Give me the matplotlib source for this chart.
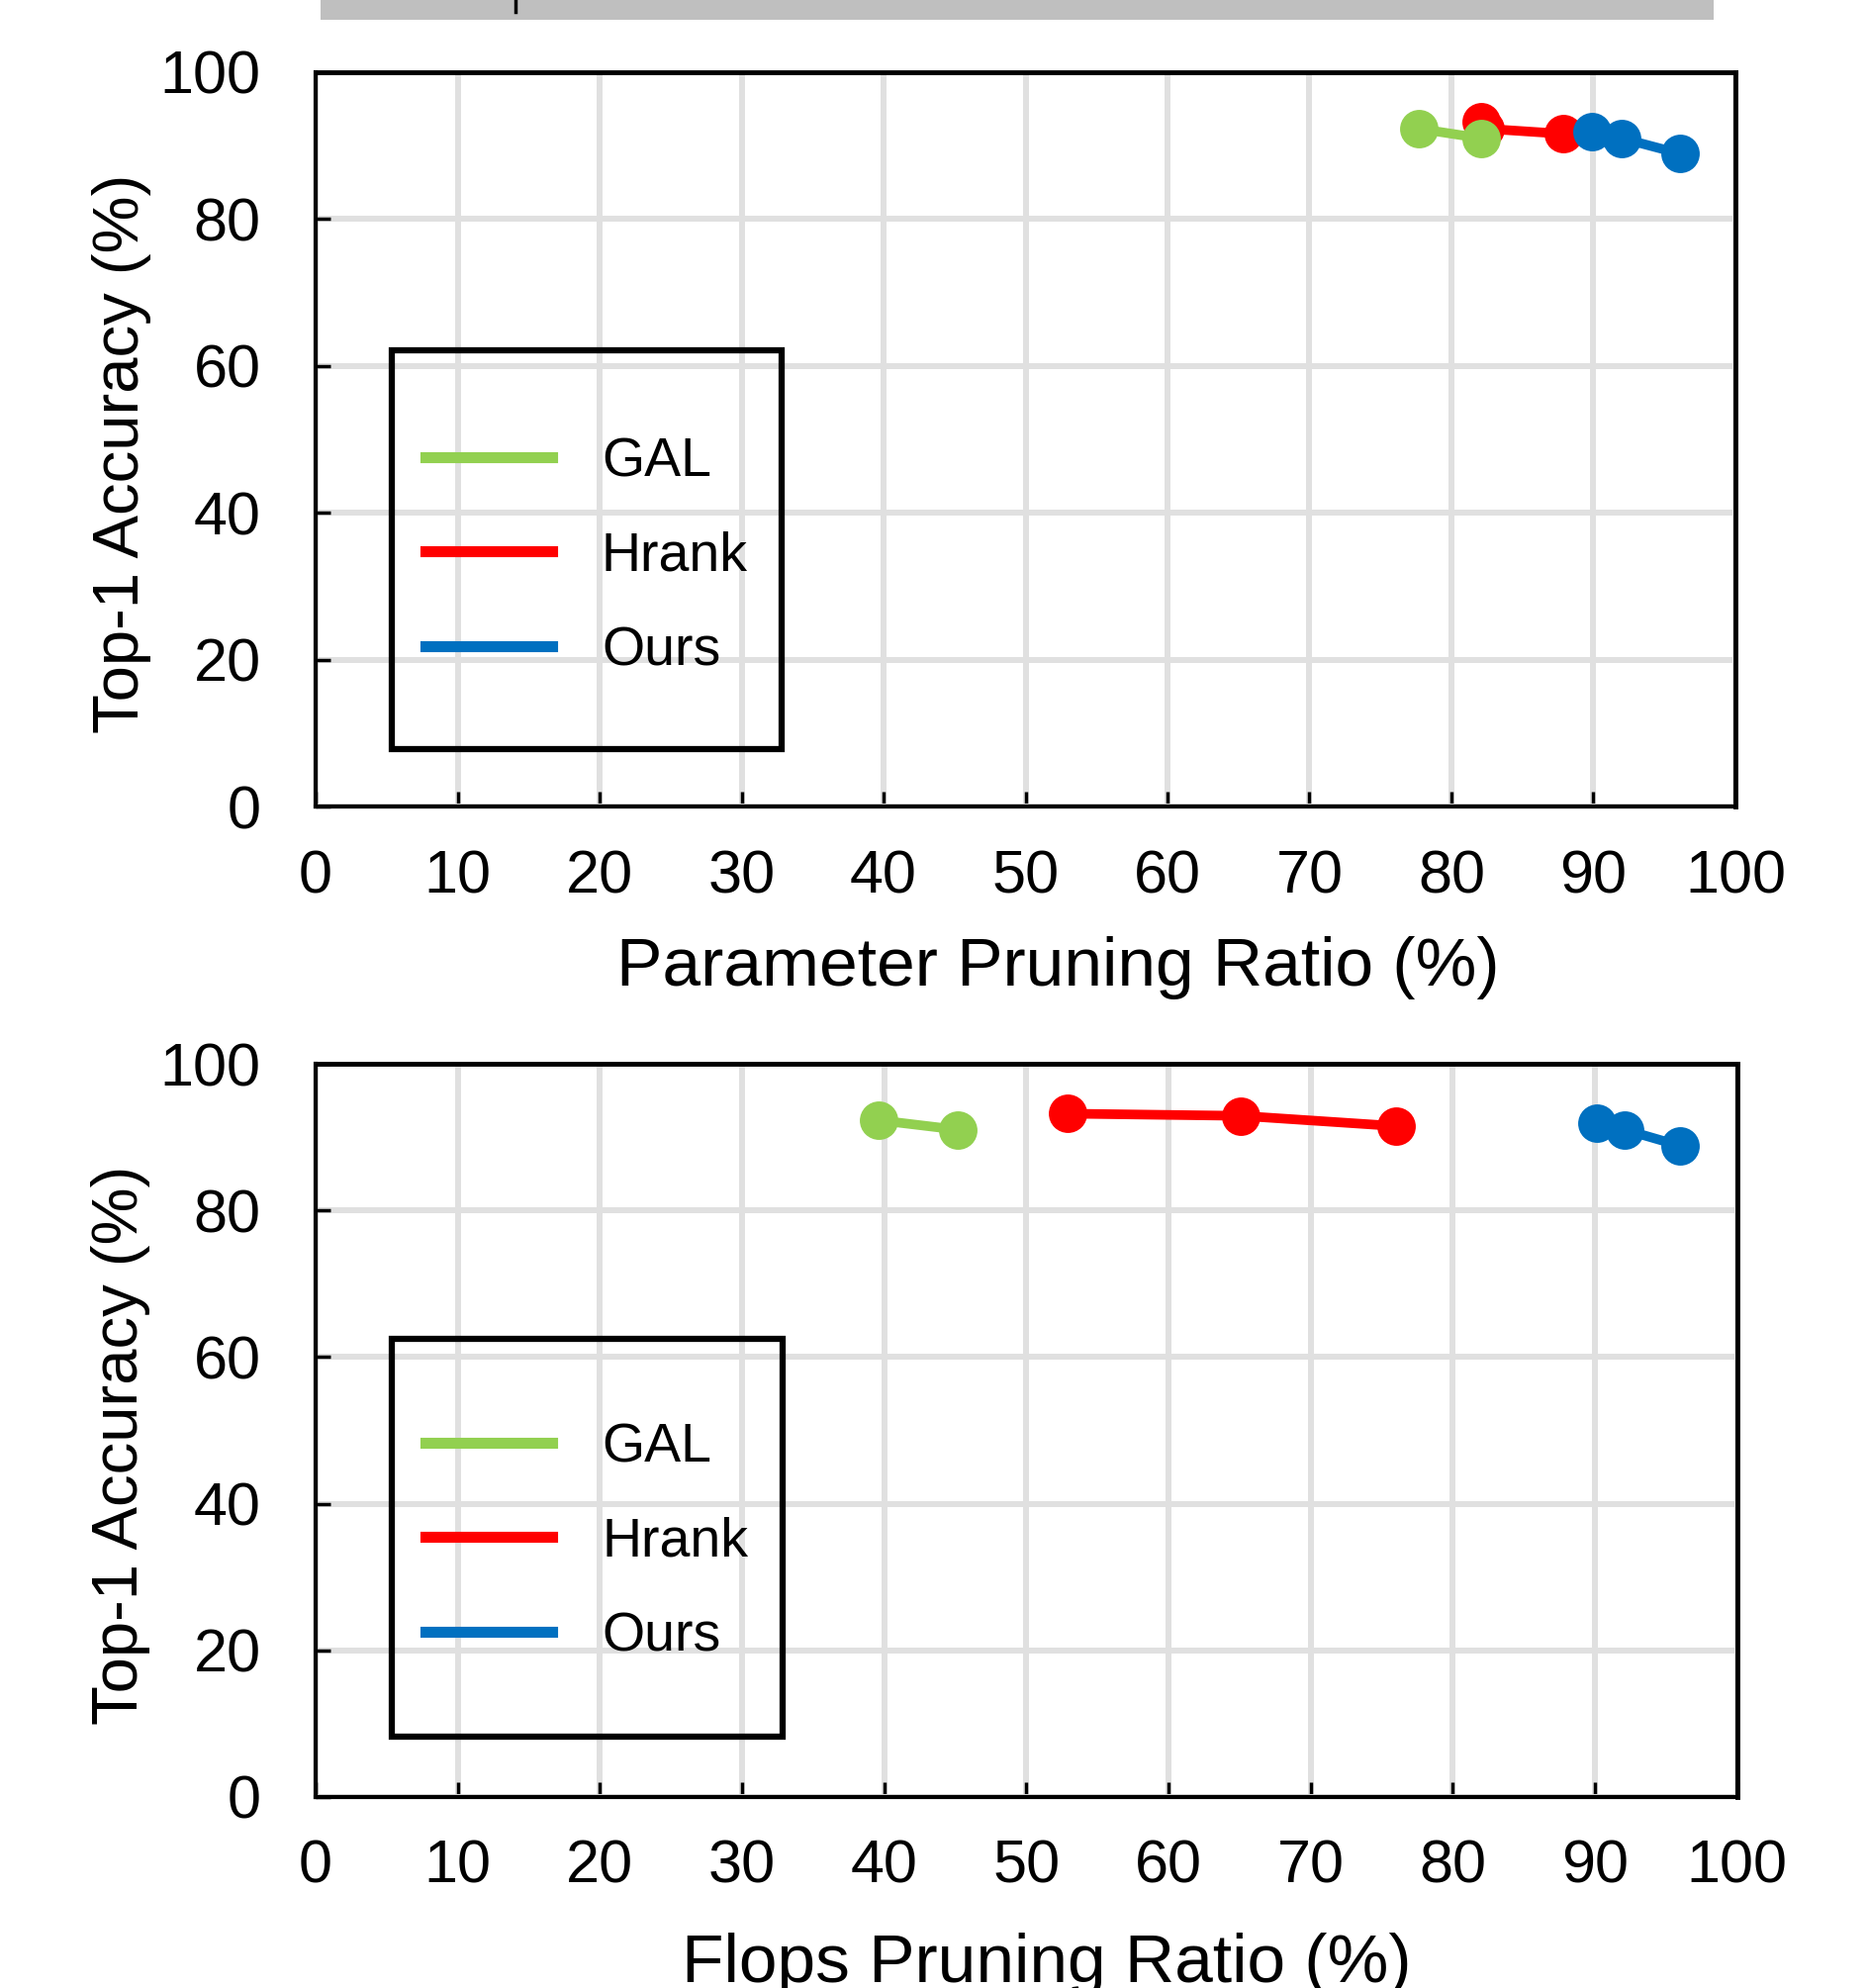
import matplotlib
matplotlib.use('Agg')
import matplotlib.pyplot as plt
from matplotlib.lines import Line2D
from matplotlib.patches import Rectangle

plt.rcParams['font.family'] = ['Liberation Sans', 'DejaVu Sans']

# data
methods = ['GAL', 'Hrank', 'Ours']
colors = {'GAL': '#92d050', 'Hrank': '#ff0000', 'Ours': '#0070c0'}

param_gal_x = [77.7, 82.1]
param_gal_y = [92.3, 91.0]
param_hrank_x = [82.1, 82.4, 87.9]
param_hrank_y = [93.2, 92.3, 91.6]
param_ours_x = [89.9, 92.0, 96.1]
param_ours_y = [91.9, 91.0, 88.9]

flops_gal_x = [39.6, 45.2]
flops_gal_y = [92.3, 91.0]
flops_hrank_x = [52.9, 65.1, 76.0]
flops_hrank_y = [93.2, 92.9, 91.5]
flops_ours_x = [90.1, 92.1, 96.0]
flops_ours_y = [91.9, 91.0, 88.8]

x_ticks = list(range(0, 101, 10))
y_ticks = list(range(0, 101, 20))


def draw_panel(ax, series, xlabel, xlab_pos, leg_center):
    ax.set_xlim(0, 100)
    ax.set_ylim(0, 100)
    ax.set_xticks(x_ticks)
    ax.set_yticks(y_ticks)
    ax.grid(True, color='#e0e0e0', linewidth=4.3)
    ax.set_axisbelow(True)
    ax.tick_params(direction='in', length=11, width=2.5, labelsize=44, color='black')
    ax.tick_params(axis='x', pad=31)
    ax.tick_params(axis='y', pad=40)
    for side in ['left', 'bottom']:
        ax.spines[side].set_linewidth(3)
    for side in ['top', 'right']:
        ax.spines[side].set_linewidth(3.5)
    # Hrank first so GAL and Ours sit on top of it
    for name in ['Hrank', 'GAL', 'Ours']:
        xs, ys = series[name]
        ax.plot(xs, ys, color=colors[name], linewidth=7, marker='o',
                markersize=28, markeredgewidth=0, clip_on=False)
    ax.set_xlabel(xlabel, fontsize=50)
    ax.xaxis.set_label_coords(xlab_pos[0], xlab_pos[1])
    ax.set_ylabel('Top-1 Accuracy (%)', fontsize=47)
    ax.yaxis.set_label_coords(-0.116, 0.48)

    handles = [Line2D([], [], color=colors[m], linewidth=8) for m in methods]
    ax.legend(handles, methods, loc='center left', bbox_to_anchor=leg_center,
              frameon=False, fontsize=40, handlelength=2.3, handletextpad=0.9,
              labelspacing=0.78, borderpad=0, borderaxespad=0)
    box = Rectangle((0.0537, box_y[ax_id(ax)]), 0.2745, 0.543,
                    transform=ax.transAxes, fill=False, edgecolor='black',
                    linewidth=4.5, zorder=5)
    ax.add_patch(box)


box_y = [0.078, 0.082]
axes_list = []


def ax_id(ax):
    return axes_list.index(ax)


fig = plt.figure(figsize=(18.88, 20.09), dpi=100)

# gray banner cut off at the top
fig.patches.append(Rectangle((324 / 1888, 1 - 20 / 2009), 1408 / 1888, 20 / 2009,
                             transform=fig.transFigure, facecolor='#bfbfbf',
                             edgecolor='none'))
fig.lines.append(Line2D([521 / 1888, 521 / 1888], [1, 1 - 12 / 2009],
                        transform=fig.transFigure, color='black', linewidth=2.5))

ax1 = fig.add_axes([0.169, 0.5943, 0.760, 0.3694])
axes_list.append(ax1)
draw_panel(ax1,
           {'GAL': (param_gal_x, param_gal_y),
            'Hrank': (param_hrank_x, param_hrank_y),
            'Ours': (param_ours_x, param_ours_y)},
           'Parameter Pruning Ratio (%)', (0.523, -0.176), (0.0774, 0.34))

ax2 = fig.add_axes([0.169, 0.0961, 0.761, 0.3688])
axes_list.append(ax2)
draw_panel(ax2,
           {'GAL': (flops_gal_x, flops_gal_y),
            'Hrank': (flops_hrank_x, flops_hrank_y),
            'Ours': (flops_ours_x, flops_ours_y)},
           'Flops Pruning Ratio (%)', (0.514, -0.185), (0.0774, 0.347))

plt.savefig('out.png', dpi=100)
